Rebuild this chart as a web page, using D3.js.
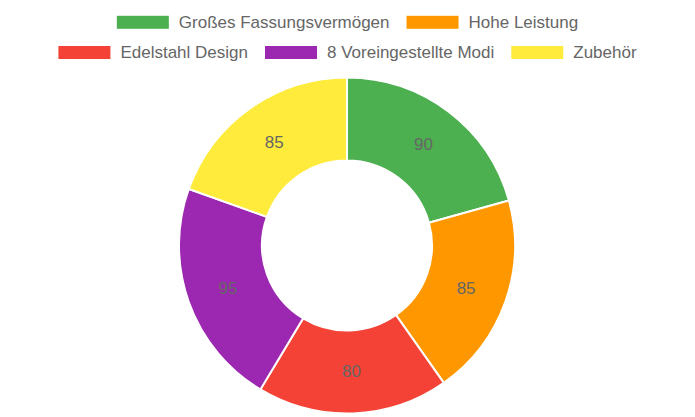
<!DOCTYPE html>
<html><head><meta charset="utf-8">
<script src="https://cdn.jsdelivr.net/npm/d3@7"></script>
<style>body{margin:0;background:#fff}svg{display:block}</style>
</head><body>
<svg id="c" width="695" height="417"></svg>
<script>
const categories = ["Großes Fassungsvermögen","Hohe Leistung","Edelstahl Design","8 Voreingestellte Modi","Zubehör"];
const values = [90,85,80,95,85];
const colors = ["#4CAF50","#FF9800","#F44336","#9C27B0","#FFEB3B"];
const legendRows = [[0,1],[2,3,4]];

const svg = d3.select("#c");
const font = "'Liberation Sans', Arial, Helvetica, sans-serif";
const cx = 347, cy = 245.5, R = 168, r = 85;

const pie = d3.pie().sort(null).value(d => d)(values);
const arc = d3.arc().innerRadius(r).outerRadius(R);
const labelArc = d3.arc().innerRadius((R + r) / 2).outerRadius((R + r) / 2);
const g = svg.append("g").attr("transform", `translate(${cx},${cy})`);
g.selectAll("path").data(pie).join("path")
  .attr("d", arc).attr("fill", (d, i) => colors[i])
  .attr("stroke", "#fff").attr("stroke-width", 2);
g.selectAll("text").data(pie).join("text")
  .attr("x", d => labelArc.centroid(d)[0]).attr("y", d => labelArc.centroid(d)[1])
  .attr("text-anchor", "middle").attr("dominant-baseline", "central")
  .attr("font-family", font).attr("font-size", 17).attr("fill", "#666")
  .text(d => d.data);

// legend
const boxW = 52, boxH = 13, gapBT = 10, gapItem = 17;
const rowY = [22.3, 52.5];
legendRows.forEach((row, ri) => {
  const lg = svg.append("g");
  let x = 0;
  row.forEach(i => {
    lg.append("rect").attr("x", x).attr("y", rowY[ri] - boxH / 2).attr("width", boxW).attr("height", boxH)
      .attr("fill", colors[i]);
    x += boxW + gapBT;
    const t = lg.append("text").attr("x", x).attr("y", rowY[ri]).attr("dominant-baseline", "central")
      .attr("font-family", font).attr("font-size", 17).attr("fill", "#666").text(categories[i]);
    x += t.node().getComputedTextLength() + gapItem;
  });
  const w = x - gapItem;
  lg.attr("transform", `translate(${347.5 - w / 2},0)`);
});
</script>
</body></html>
